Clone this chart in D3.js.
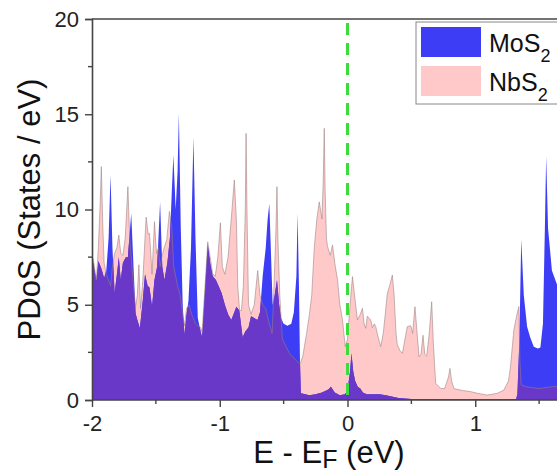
<!DOCTYPE html>
<html>
<head>
<meta charset="utf-8">
<script src="https://cdn.jsdelivr.net/npm/d3@7"></script>
<style>
  body { margin: 0; background: #fff; }
  svg { display: block; font-family: "Liberation Sans", Arial, sans-serif; }
</style>
</head>
<body>
<svg id="chart"></svg>
<script>
// [energy (eV), PDoS]
const mos2 = [
  [-2.00, 7.3], [-1.99, 7.2], [-1.966, 6.3], [-1.95, 7.3], [-1.927, 6.9], [-1.905, 6.4],
  [-1.888, 6.8], [-1.87, 8.5], [-1.855, 11.8], [-1.84, 8.0], [-1.823, 5.6], [-1.805, 6.6],
  [-1.79, 7.5], [-1.775, 6.3], [-1.758, 7.2], [-1.735, 7.5], [-1.719, 7.5], [-1.693, 9.8],
  [-1.675, 7.0], [-1.659, 4.55], [-1.645, 4.2], [-1.625, 3.76], [-1.602, 5.25], [-1.585, 6.6],
  [-1.565, 6.0], [-1.55, 5.9], [-1.53, 4.9], [-1.511, 6.3], [-1.49, 7.0], [-1.467, 10.4],
  [-1.45, 7.0], [-1.433, 6.3], [-1.41, 7.2], [-1.39, 8.5], [-1.375, 11.0], [-1.363, 12.86],
  [-1.345, 10.0], [-1.33, 12.0], [-1.32, 15.05], [-1.305, 9.0], [-1.29, 5.0], [-1.276, 3.4],
  [-1.26, 4.5], [-1.245, 5.2], [-1.225, 8.0], [-1.206, 13.8], [-1.19, 8.5], [-1.172, 4.3],
  [-1.15, 3.6], [-1.138, 3.3], [-1.115, 5.9], [-1.094, 8.2], [-1.075, 7.2], [-1.055, 6.5],
  [-1.03, 6.3], [-1.01, 6.0], [-0.985, 5.6], [-0.96, 5.0], [-0.935, 4.5], [-0.91, 4.2],
  [-0.886, 4.6], [-0.87, 4.9], [-0.847, 4.7], [-0.821, 3.3], [-0.80, 3.6], [-0.775, 3.8],
  [-0.755, 4.4], [-0.73, 4.3], [-0.705, 4.2], [-0.685, 4.6], [-0.664, 6.5], [-0.64, 8.0],
  [-0.625, 9.5], [-0.612, 10.3], [-0.598, 7.5], [-0.586, 5.0], [-0.57, 5.5], [-0.552, 6.3],
  [-0.535, 5.0], [-0.52, 4.3], [-0.50, 4.0], [-0.47, 3.9], [-0.44, 4.0], [-0.42, 4.6],
  [-0.40, 6.5], [-0.391, 9.8], [-0.38, 6.0], [-0.372, 2.0], [-0.365, 0.35], [-0.33, 0.3],
  [-0.30, 0.25], [-0.25, 0.3], [-0.20, 0.4], [-0.15, 0.55], [-0.13, 0.7], [-0.10, 0.4],
  [-0.06, 0.25], [-0.02, 0.3], [0.0, 0.5], [0.02, 1.5], [0.031, 2.45], [0.045, 1.5],
  [0.06, 1.0], [0.08, 0.7], [0.10, 0.6], [0.12, 0.4], [0.15, 0.3], [0.25, 0.3],
  [0.30, 0.25], [0.40, 0.1], [0.50, 0.05], [1.32, 0.05], [1.33, 0.3], [1.345, 3.0],
  [1.36, 8.44], [1.38, 5.5], [1.406, 3.85], [1.43, 3.3], [1.458, 2.8], [1.49, 2.7],
  [1.51, 2.75], [1.53, 4.0], [1.545, 9.0], [1.555, 12.8], [1.57, 9.0], [1.60, 6.8],
  [1.643, 6.0], [1.70, 5.5], [1.80, 5.0]
];

const nbs2 = [
  [-2.00, 7.5], [-1.99, 7.4], [-1.966, 6.3], [-1.95, 8.0], [-1.935, 10.5], [-1.927, 12.25],
  [-1.915, 9.0], [-1.905, 7.2], [-1.888, 6.6], [-1.855, 6.0], [-1.84, 7.0], [-1.823, 7.7],
  [-1.805, 8.0], [-1.79, 8.66], [-1.775, 7.7], [-1.758, 7.6], [-1.74, 8.5], [-1.719, 11.2],
  [-1.705, 8.5], [-1.693, 7.5], [-1.675, 6.0], [-1.659, 4.9], [-1.645, 5.5], [-1.633, 7.1],
  [-1.62, 4.8], [-1.602, 6.3], [-1.585, 8.5], [-1.576, 9.6], [-1.56, 8.7], [-1.55, 8.75],
  [-1.53, 6.6], [-1.511, 9.36], [-1.495, 7.7], [-1.48, 8.0], [-1.467, 7.0], [-1.45, 7.6],
  [-1.433, 8.05], [-1.415, 8.4], [-1.394, 9.9], [-1.375, 9.0], [-1.36, 7.0], [-1.33, 6.0],
  [-1.31, 5.5], [-1.29, 4.5], [-1.276, 3.9], [-1.26, 4.8], [-1.24, 5.0], [-1.22, 4.5],
  [-1.206, 4.3], [-1.19, 4.0], [-1.172, 3.9], [-1.15, 3.8], [-1.138, 3.6], [-1.115, 6.0],
  [-1.094, 8.3], [-1.075, 7.5], [-1.055, 6.6], [-1.035, 6.5], [-1.015, 7.5], [-0.995, 9.3],
  [-0.98, 7.0], [-0.96, 6.6], [-0.935, 7.5], [-0.91, 9.5], [-0.886, 11.55], [-0.87, 9.5],
  [-0.859, 6.0], [-0.845, 4.7], [-0.83, 4.7], [-0.815, 6.0], [-0.80, 10.0], [-0.794, 14.0],
  [-0.787, 10.0], [-0.775, 5.0], [-0.755, 4.5], [-0.73, 5.0], [-0.703, 6.8], [-0.685, 5.5],
  [-0.664, 5.0], [-0.64, 4.8], [-0.612, 4.0], [-0.59, 3.5], [-0.575, 6.0], [-0.56, 9.0],
  [-0.552, 11.2], [-0.545, 8.5], [-0.53, 5.5], [-0.51, 3.2], [-0.48, 2.8], [-0.45, 2.4],
  [-0.42, 2.2], [-0.39, 2.0], [-0.37, 1.9], [-0.35, 2.3], [-0.32, 3.5], [-0.30, 4.4],
  [-0.28, 5.5], [-0.26, 8.0], [-0.24, 9.5], [-0.221, 10.4], [-0.20, 9.5], [-0.19, 11.5],
  [-0.182, 14.26], [-0.175, 11.0], [-0.165, 8.5], [-0.156, 8.05], [-0.135, 7.6], [-0.117, 8.14],
  [-0.10, 7.2], [-0.078, 6.3], [-0.06, 5.0], [-0.039, 4.2], [-0.018, 2.8], [0.0, 3.2],
  [0.02, 5.0], [0.039, 6.48], [0.055, 5.5], [0.078, 4.2], [0.10, 4.5], [0.117, 4.81],
  [0.13, 4.0], [0.143, 3.76], [0.155, 4.4], [0.169, 4.3], [0.182, 4.2], [0.195, 3.8],
  [0.21, 4.0], [0.221, 3.85], [0.24, 3.3], [0.26, 2.8], [0.28, 3.5], [0.30, 4.8],
  [0.312, 5.6], [0.33, 6.0], [0.351, 6.56], [0.365, 5.5], [0.38, 3.5], [0.39, 2.9],
  [0.41, 2.6], [0.43, 2.45], [0.45, 3.2], [0.468, 3.85], [0.495, 3.9], [0.51, 3.5],
  [0.528, 4.9], [0.545, 3.5], [0.56, 2.27], [0.575, 2.4], [0.591, 3.4], [0.605, 2.4],
  [0.62, 2.3], [0.64, 3.5], [0.659, 5.16], [0.672, 3.0], [0.69, 0.88], [0.729, 0.61],
  [0.76, 0.6], [0.79, 1.2], [0.802, 1.66], [0.815, 1.0], [0.833, 0.6], [0.90, 0.5],
  [0.963, 0.44], [1.02, 0.35], [1.093, 0.26], [1.172, 0.35], [1.224, 0.52], [1.26, 1.0],
  [1.276, 1.75], [1.302, 3.67], [1.328, 4.55], [1.341, 4.9], [1.35, 2.0], [1.36, 0.8],
  [1.40, 0.7], [1.50, 0.6], [1.60, 0.7], [1.70, 0.7], [1.80, 0.7]
];

const xTicks = [-2, -1, 0, 1];
const xMinor = [-1.5, -0.5, 0.5, 1.5];
const yTicks = [0, 5, 10, 15, 20];
const yMinor = [2.5, 7.5, 12.5, 17.5];
const legendItems = [
  { name: "MoS", sub: "2", color: "#3d3df5" },
  { name: "NbS", sub: "2", color: "#ffc9c9" }
];

const width = 557, height = 475;
const purple = "#6a38c8";

const svg = d3.select("#chart").attr("width", width).attr("height", height);

const x = d3.scaleLinear().domain([-2, 2]).range([92, 603]);
const y = d3.scaleLinear().domain([0, 20]).range([400, 19]);

const defs = svg.append("defs");
defs.append("clipPath").attr("id", "plotClip")
  .append("rect")
  .attr("x", x(-2)).attr("y", y(20))
  .attr("width", x(2) - x(-2)).attr("height", y(0) - y(20));

const area = d3.area()
  .x(d => x(d[0]))
  .y0(y(0))
  .y1(d => y(d[1]));

const line = d3.line()
  .x(d => x(d[0]))
  .y(d => y(d[1]));

// NbS2 area is also used as a clip so the overlap can be painted purple
defs.append("clipPath").attr("id", "nbsClip")
  .append("path").attr("d", area(nbs2));

const plot = svg.append("g").attr("clip-path", "url(#plotClip)");

plot.append("path")
  .attr("d", area(nbs2))
  .attr("fill", legendItems[1].color);

plot.append("path")
  .attr("d", area(mos2))
  .attr("fill", legendItems[0].color);

plot.append("g").attr("clip-path", "url(#nbsClip)")
  .append("path")
  .attr("d", area(mos2))
  .attr("fill", purple);

plot.append("path")
  .attr("d", line(nbs2))
  .attr("fill", "none")
  .attr("stroke", "#9a8080")
  .attr("stroke-opacity", 0.7)
  .attr("stroke-width", 0.8);

// Fermi level
plot.append("line")
  .attr("x1", x(0)).attr("x2", x(0))
  .attr("y1", y(20) + 4).attr("y2", y(0))
  .attr("stroke", "#3ddc3d")
  .attr("stroke-width", 3)
  .attr("stroke-dasharray", "12,8");

// axes
const axisColor = "#444";
const fmt = d => String(d);

const gx = svg.append("g")
  .attr("transform", "translate(0," + y(0) + ")")
  .call(d3.axisBottom(x).tickValues(xTicks).tickFormat(fmt).tickSize(7).tickPadding(8));
gx.select(".domain").attr("d", "M" + x(-2) + ",0H" + (width + 10));
gx.append("g").selectAll("line").data(xMinor).enter().append("line")
  .attr("x1", d => x(d)).attr("x2", d => x(d))
  .attr("y1", 0).attr("y2", 4);

const gy = svg.append("g")
  .attr("transform", "translate(" + x(-2) + ",0)")
  .call(d3.axisLeft(y).tickValues(yTicks).tickFormat(fmt).tickSize(7).tickPadding(6));
gy.append("g").selectAll("line").data(yMinor).enter().append("line")
  .attr("x1", 0).attr("x2", -4)
  .attr("y1", d => y(d)).attr("y2", d => y(d));

[gx, gy].forEach(g => {
  g.select(".domain").attr("stroke", axisColor).attr("stroke-width", 1.6);
  g.selectAll("line").attr("stroke", axisColor).attr("stroke-width", 1.4);
  g.selectAll("text").attr("font-size", 22).attr("fill", "#222")
    .attr("font-family", "Liberation Sans, Arial, sans-serif");
});

// top spine
svg.append("line")
  .attr("x1", x(-2)).attr("x2", width + 10)
  .attr("y1", y(20)).attr("y2", y(20))
  .attr("stroke", axisColor).attr("stroke-width", 1.6);

// axis titles
svg.append("text")
  .attr("transform", "translate(40," + (y(0) + y(20)) / 2 + ") rotate(-90)")
  .attr("text-anchor", "middle")
  .attr("font-size", 31)
  .attr("fill", "#111")
  .text("PDoS (States / eV)");

const xt = svg.append("text")
  .attr("x", 329).attr("y", 463)
  .attr("text-anchor", "middle")
  .attr("font-size", 31)
  .attr("fill", "#111");
xt.append("tspan").text("E - E");
xt.append("tspan").attr("font-size", 25).attr("dy", 5).text("F");
xt.append("tspan").attr("dy", -5).text(" (eV)");

// legend
const leg = svg.append("g");
leg.append("rect")
  .attr("x", 416).attr("y", 22)
  .attr("width", 170).attr("height", 82)
  .attr("fill", "#fff")
  .attr("stroke", "#888").attr("stroke-width", 1);

const rows = leg.selectAll("g.row").data(legendItems).enter().append("g")
  .attr("class", "row")
  .attr("transform", (d, i) => "translate(0," + i * 39 + ")");
rows.append("rect")
  .attr("x", 421).attr("y", 27)
  .attr("width", 60).attr("height", 30)
  .attr("fill", d => d.color);
const lt = rows.append("text")
  .attr("x", 489).attr("y", 52)
  .attr("font-size", 25)
  .attr("fill", "#111");
lt.append("tspan").text(d => d.name);
lt.append("tspan").attr("font-size", 18).attr("dy", 10).text(d => d.sub);
</script>
</body>
</html>
